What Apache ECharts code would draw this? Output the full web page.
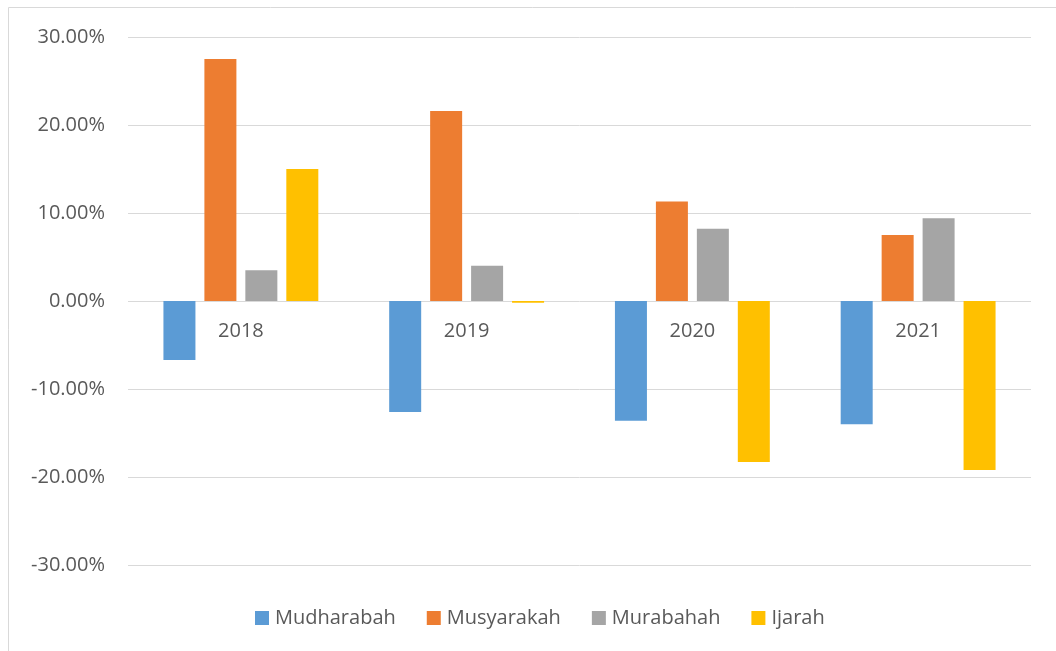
<!DOCTYPE html>
<html>
<head>
<meta charset="utf-8">
<script src="https://cdn.jsdelivr.net/npm/echarts@6/dist/echarts.min.js"></script>
<style>
  html, body { margin: 0; padding: 0; background: #fff; }
  #main { width: 1056px; height: 651px; }
</style>
</head>
<body>
<div id="main"></div>
<script>
// data (percent)
const years = ['2018', '2019', '2020', '2021']
const mudharabah = [-6.7, -12.6, -13.6, -14.0]
const musyarakah = [27.5, 21.6, 11.3, 7.5]
const murabahah = [3.5, 4.0, 8.2, 9.4]
const ijarah = [15.0, -0.2, -18.3, -19.2]
const yTicks = [-30, -20, -10, 0, 10, 20, 30]

const fontFam = '"Open Sans", "Liberation Sans", sans-serif'
const txt = '#595959'

const chart = echarts.init(document.getElementById('main'))

function bar (name, data, color) {
  return {
    name: name,
    type: 'bar',
    barWidth: 32,
    barGap: '28%',
    itemStyle: { color: color },
    data: data
  }
}

const option = {
  animation: false,
  graphic: [{
    type: 'rect',
    shape: { x: 8.5, y: 7.5, width: 1100, height: 700 },
    style: { fill: 'none', stroke: '#d9d9d9', lineWidth: 1 },
    silent: true
  }],
  grid: { left: 128, right: 25, top: 37, bottom: 86 },
  legend: {
    top: 603,
    left: 250,
    itemWidth: 14,
    itemHeight: 14,
    itemGap: 31,
    icon: 'rect',
    textStyle: { fontFamily: fontFam, fontSize: 20, color: txt, padding: [0, 0, 0, 1] },
    data: ['Mudharabah', 'Musyarakah', 'Murabahah', 'Ijarah']
  },
  xAxis: {
    type: 'category',
    data: years,
    // category labels sit just under the zero line
    offset: -264,
    axisLine: { show: false },
    axisTick: { show: false },
    axisLabel: { fontFamily: fontFam, fontSize: 20, color: txt, margin: 20 }
  },
  yAxis: {
    type: 'value',
    min: yTicks[0],
    max: yTicks[yTicks.length - 1],
    interval: 10,
    axisLine: { show: false },
    axisTick: { show: false },
    splitLine: { lineStyle: { color: '#d9d9d9', width: 1 } },
    axisLabel: {
      fontFamily: fontFam,
      fontSize: 20,
      color: txt,
      margin: 23,
      formatter: v => v.toFixed(2) + '%'
    }
  },
  series: [
    bar('Mudharabah', mudharabah, '#5b9bd5'),
    bar('Musyarakah', musyarakah, '#ed7d31'),
    bar('Murabahah', murabahah, '#a5a5a5'),
    bar('Ijarah', ijarah, '#ffc000')
  ]
}
chart.setOption(option)
</script>
</body>
</html>
